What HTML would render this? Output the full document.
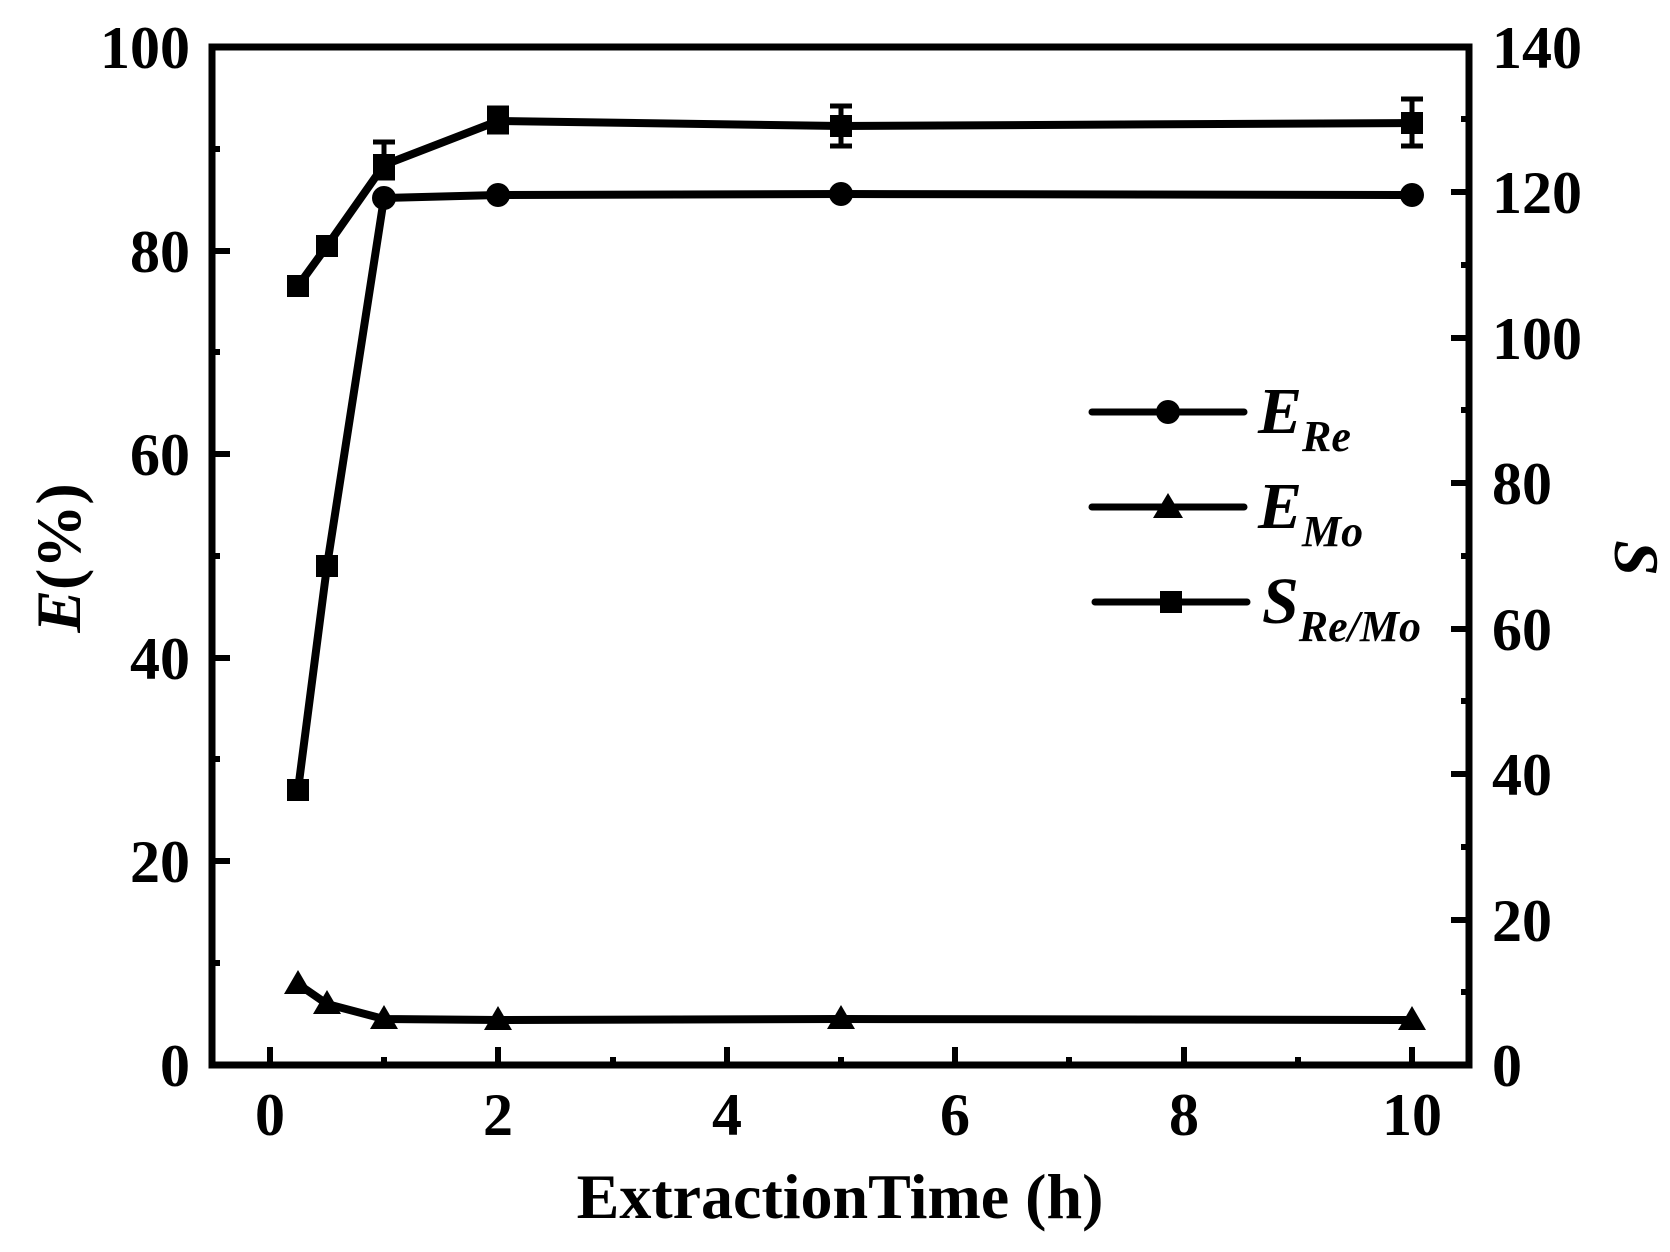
<!DOCTYPE html>
<html><head><meta charset="utf-8"><style>
html,body{margin:0;padding:0;background:#fff;}
svg{display:block;}
text{font-family:"Liberation Serif",serif;font-weight:bold;fill:#000;}
</style></head><body>
<svg width="1670" height="1252" viewBox="0 0 1670 1252" xmlns="http://www.w3.org/2000/svg">
<g stroke="#000" stroke-width="7" fill="none">
<rect x="212" y="47" width="1257" height="1018"/>
</g>
<g stroke="#000" stroke-width="6">
<line x1="212" y1="861" x2="230" y2="861"/><line x1="212" y1="658" x2="230" y2="658"/>
<line x1="212" y1="454" x2="230" y2="454"/><line x1="212" y1="251" x2="230" y2="251"/>
<line x1="212" y1="963" x2="220" y2="963"/><line x1="212" y1="759" x2="220" y2="759"/>
<line x1="212" y1="556" x2="220" y2="556"/><line x1="212" y1="352" x2="220" y2="352"/>
<line x1="212" y1="149" x2="220" y2="149"/>
<line x1="1469" y1="920" x2="1451" y2="920"/><line x1="1469" y1="774" x2="1451" y2="774"/>
<line x1="1469" y1="629" x2="1451" y2="629"/><line x1="1469" y1="483" x2="1451" y2="483"/>
<line x1="1469" y1="338" x2="1451" y2="338"/><line x1="1469" y1="192" x2="1451" y2="192"/>
<line x1="1469" y1="992" x2="1461" y2="992"/><line x1="1469" y1="847" x2="1461" y2="847"/>
<line x1="1469" y1="701" x2="1461" y2="701"/><line x1="1469" y1="556" x2="1461" y2="556"/>
<line x1="1469" y1="410" x2="1461" y2="410"/><line x1="1469" y1="265" x2="1461" y2="265"/>
<line x1="1469" y1="119" x2="1461" y2="119"/>
<line x1="270" y1="1065" x2="270" y2="1047"/><line x1="498" y1="1065" x2="498" y2="1047"/>
<line x1="727" y1="1065" x2="727" y2="1047"/><line x1="955" y1="1065" x2="955" y2="1047"/>
<line x1="1184" y1="1065" x2="1184" y2="1047"/><line x1="1412" y1="1065" x2="1412" y2="1047"/>
<line x1="384" y1="1065" x2="384" y2="1057"/><line x1="613" y1="1065" x2="613" y2="1057"/>
<line x1="841" y1="1065" x2="841" y2="1057"/><line x1="1069" y1="1065" x2="1069" y2="1057"/>
<line x1="1298" y1="1065" x2="1298" y2="1057"/>
</g>
<g font-size="60">
<text x="190" y="68" text-anchor="end">100</text>
<text x="190" y="272" text-anchor="end">80</text>
<text x="190" y="475" text-anchor="end">60</text>
<text x="190" y="679" text-anchor="end">40</text>
<text x="190" y="882" text-anchor="end">20</text>
<text x="190" y="1086" text-anchor="end">0</text>
<text x="1492" y="68">140</text><text x="1492" y="213">120</text><text x="1492" y="359">100</text>
<text x="1492" y="504">80</text><text x="1492" y="650">60</text><text x="1492" y="795">40</text>
<text x="1492" y="941">20</text><text x="1492" y="1086">0</text>
<text x="270" y="1135" text-anchor="middle">0</text><text x="498" y="1135" text-anchor="middle">2</text>
<text x="727" y="1135" text-anchor="middle">4</text><text x="955" y="1135" text-anchor="middle">6</text>
<text x="1184" y="1135" text-anchor="middle">8</text><text x="1412" y="1135" text-anchor="middle">10</text>
</g>
<text x="840" y="1218" font-size="64" text-anchor="middle">ExtractionTime (h)</text>
<text transform="translate(80,558) rotate(-90)" font-size="64" text-anchor="middle"><tspan font-style="italic">E</tspan>(%)</text>
<text transform="translate(1615,558) rotate(90)" font-size="64" text-anchor="middle" font-style="italic">S</text>
<g stroke="#000" stroke-width="8" fill="none" stroke-linejoin="round" stroke-linecap="round">
<polyline points="298,286 327,246 384,165 498,121 841,126 1412,123"/>
<polyline points="298,790 327,566 384,198 498,195 841,194 1412,195"/>
<polyline points="298,984 327,1004 384,1019 498,1020 841,1019 1412,1020"/>
</g>
<g stroke="#000" stroke-width="5">
<line x1="384" y1="142" x2="384" y2="178"/><line x1="373" y1="142" x2="395" y2="142"/><line x1="373" y1="178" x2="395" y2="178"/>
<line x1="498" y1="108" x2="498" y2="132"/><line x1="487" y1="108" x2="509" y2="108"/><line x1="487" y1="132" x2="509" y2="132"/>
<line x1="841" y1="106" x2="841" y2="146"/><line x1="830" y1="106" x2="852" y2="106"/><line x1="830" y1="146" x2="852" y2="146"/>
<line x1="1412" y1="99" x2="1412" y2="146"/><line x1="1401" y1="99" x2="1423" y2="99"/><line x1="1401" y1="146" x2="1423" y2="146"/>
</g>
<g fill="#000">
<rect x="287" y="275" width="22" height="22"/><rect x="316" y="235" width="22" height="22"/>
<rect x="373" y="154" width="22" height="22"/><rect x="487" y="110" width="22" height="22"/>
<rect x="830" y="115" width="22" height="22"/><rect x="1401" y="112" width="22" height="22"/>
<rect x="287" y="779" width="22" height="22"/><rect x="316" y="555" width="22" height="22"/>
<circle cx="384" cy="198" r="12"/><circle cx="498" cy="195" r="12"/>
<circle cx="841" cy="194" r="12"/><circle cx="1412" cy="195" r="12"/>
<polygon points="298,970 312,994 284,994"/><polygon points="327,990 341,1014 313,1014"/>
<polygon points="384,1005 398,1029 370,1029"/><polygon points="498,1006 512,1030 484,1030"/>
<polygon points="841,1005 855,1029 827,1029"/><polygon points="1412,1006 1426,1030 1398,1030"/>
</g>
<g stroke="#000" stroke-width="7" stroke-linecap="round">
<line x1="1092" y1="412" x2="1244" y2="412"/>
<line x1="1092" y1="507" x2="1244" y2="507"/>
<line x1="1095" y1="602" x2="1247" y2="602"/>
</g>
<g fill="#000">
<circle cx="1168" cy="412" r="12"/>
<polygon points="1168,493 1183,518 1153,518"/>
<rect x="1160" y="591" width="22" height="22"/>
</g>
<g font-style="italic">
<text x="1258" y="433" font-size="66">E<tspan font-size="44" dy="18">Re</tspan></text>
<text x="1258" y="528" font-size="66">E<tspan font-size="44" dy="18">Mo</tspan></text>
<text x="1262" y="623" font-size="66">S<tspan font-size="44" dy="18">Re/Mo</tspan></text>
</g>
</svg>
</body></html>
